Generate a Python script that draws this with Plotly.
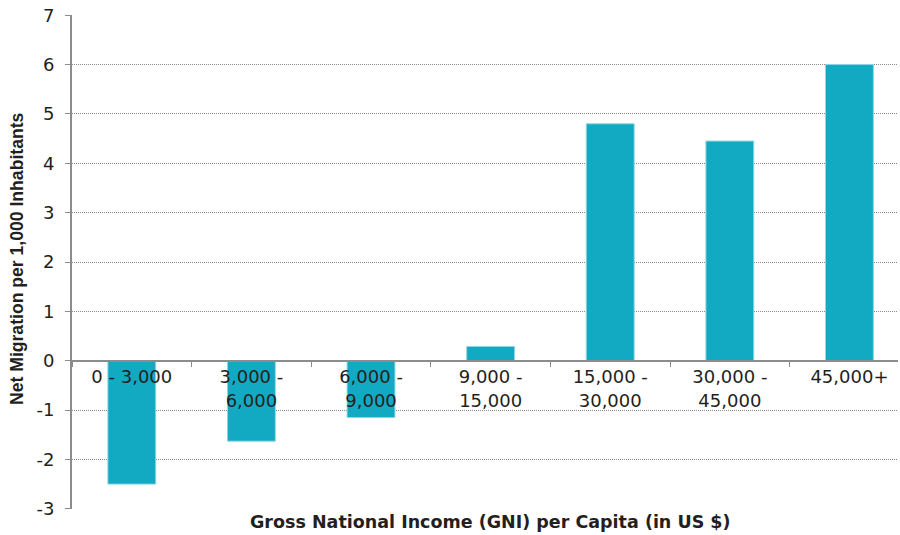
import plotly.graph_objects as go

categories = ["0 - 3,000", "3,000 -<br>6,000", "6,000 -<br>9,000", "9,000 -<br>15,000",
              "15,000 -<br>30,000", "30,000 -<br>45,000", "45,000+"]
values = [-2.5, -1.63, -1.15, 0.29, 4.8, 4.45, 6.0]
y_ticks = [-3, -2, -1, 0, 1, 2, 3, 4, 5, 6, 7]
y_ticktext = [str(v) for v in y_ticks]

FONT = "DejaVu Sans, Liberation Sans, Arial, sans-serif"
FONT_NARROW = "Liberation Sans, Arial, sans-serif"

fig = go.Figure(go.Bar(
    x=categories, y=values,
    marker=dict(color="#12A9C2", line=dict(color="#8FD6E2", width=1)),
    width=0.40,
))

fig.update_layout(
    width=900, height=535,
    margin=dict(l=72, r=2, t=15, b=26),
    plot_bgcolor="white", paper_bgcolor="white",
    font=dict(family=FONT, size=18, color="#231F20"),
    showlegend=False,
    xaxis=dict(
        type="category",
        range=[-0.5, 6.406],
        anchor="free", position=0.3,
        automargin=False,
        showline=True, linecolor="#8C8C8C", linewidth=2,
        ticks="outside", tickson="boundaries", ticklen=5, tickcolor="#8C8C8C", tickwidth=1,
        showgrid=False,
        tickfont=dict(family=FONT, size=18, color="#231F20"),
    ),
    yaxis=dict(
        range=[-3.004, 7.004], tickvals=y_ticks, ticktext=y_ticktext,
        automargin=False,
        showline=True, linecolor="#8C8C8C", linewidth=2,
        ticks="outside", ticklen=5, tickcolor="#8C8C8C",
        ticklabelstandoff=7, ticklabeloverflow="allow",
        showgrid=True, gridcolor="#8A8A8A", griddash="1px,1px", gridwidth=1,
        zeroline=False,
        tickfont=dict(family=FONT, size=18, color="#231F20"),
    ),
    annotations=[
        dict(
            text="<b>Gross National Income (GNI) per Capita (in US $)</b>",
            x=0.5, xref="paper", y=0, yref="paper", yanchor="middle", yshift=-13,
            xshift=5,
            showarrow=False, font=dict(family=FONT, size=17.5, color="#231F20"),
        ),
        dict(
            text="<b>Net Migration per 1,000 Inhabitants</b>",
            x=0, xref="paper", xanchor="center", xshift=-55,
            y=0.5, yref="paper", yanchor="middle", yshift=3,
            textangle=-90,
            showarrow=False, font=dict(family=FONT_NARROW, size=17.6, color="#231F20"),
        ),
    ],
)

fig.write_html("out.html", config={"displayModeBar": False},
               post_script="document.body.style.margin='0';document.body.style.overflow='hidden';")
